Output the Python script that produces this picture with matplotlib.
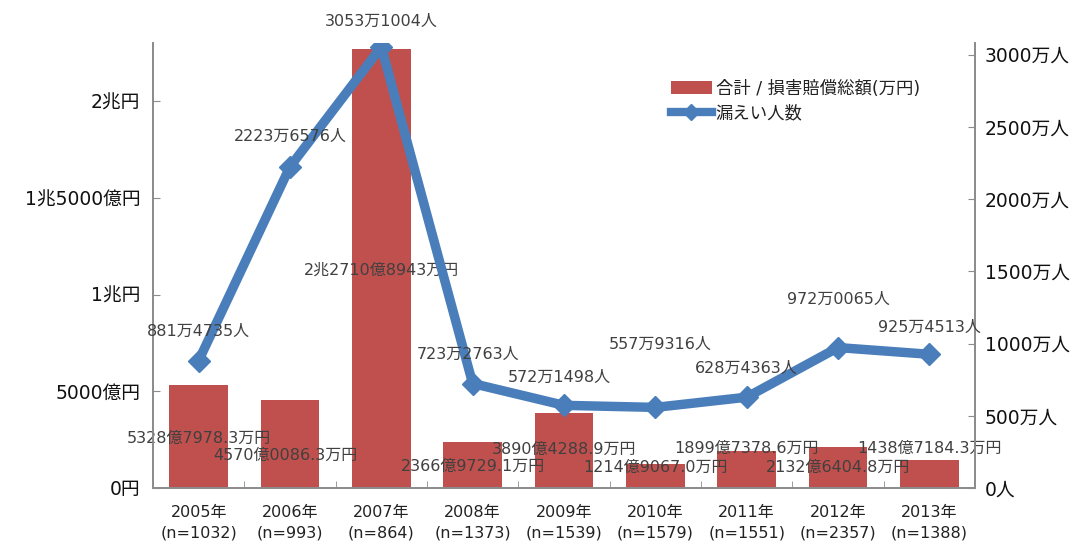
import matplotlib
matplotlib.use("Agg")
import matplotlib.pyplot as plt
from matplotlib.lines import Line2D
from matplotlib.patches import Patch
from matplotlib.transforms import blended_transform_factory

FONT = ['DejaVu Sans', 'Noto Sans CJK JP']
plt.rcParams['font.family'] = FONT

# Data
years = ["2005年", "2006年", "2007年", "2008年", "2009年", "2010年", "2011年", "2012年", "2013年"]
sample_n = [1032, 993, 864, 1373, 1539, 1579, 1551, 2357, 1388]
damages_man_yen = [53287978.3, 45700086.3, 227108943.0, 23669729.1, 38904288.9,
                   12149067.0, 18997378.6, 21326404.8, 14387184.3]
damage_labels = ["5328億7978.3万円", "4570億0086.3万円", "2兆2710億8943万円", "2366億9729.1万円",
                 "3890億4288.9万円", "1214億9067.0万円", "1899億7378.6万円", "2132億6404.8万円",
                 "1438億7184.3万円"]
leaked_people = [8814735, 22236576, 30531004, 7232763, 5721498, 5579316, 6284363, 9720065, 9254513]
people_labels = ["881万4735人", "2223万6576人", "3053万1004人", "723万2763人", "572万1498人",
                 "557万9316人", "628万4363人", "972万0065人", "925万4513人"]
left_ticks = [0, 5e7, 1e8, 1.5e8, 2e8]
left_tick_labels = ["0円", "5000億円", "1兆円", "1兆5000億円", "2兆円"]
right_ticks = [0, 500, 1000, 1500, 2000, 2500, 3000]
right_tick_labels = ["0人", "500万人", "1000万人", "1500万人", "2000万人", "2500万人", "3000万人"]

# Label placement (pixel offsets / figure rows)
people_offsets = [(0, 29), (0, 30), (0, 26), (-5, 29), (-5, 28), (5, 63), (0, 29), (0, 48), (0, 27)]
damage_label_x_shift = [0, -0.05, 0, 0, 0, 0, 0, 0, 0]
damage_label_y = [438, 455, 270, 466, 449, 467, 448, 467, 448]

BAR_COLOR = "#C0504D"
LINE_COLOR = "#4A7EBB"
SPINE_COLOR = "#8C8C8C"
LABEL_COLOR = "#404040"

W, H = 1081, 549
fig = plt.figure(figsize=(W / 100, H / 100), dpi=100)
ax = fig.add_axes([153 / W, (H - 488) / H, (975 - 153) / W, (488 - 43) / H])
ax2 = ax.twinx()

x = list(range(len(years)))
ax.bar(x, damages_man_yen, width=0.64, color=BAR_COLOR, zorder=2)
ax.set_xlim(-0.5, len(years) - 0.5)
ax.set_ylim(0, 2.3e8)
ax2.set_ylim(0, 3080)

people_man = [p / 1e4 for p in leaked_people]
ax2.plot(x, people_man, color=LINE_COLOR, lw=6.8, marker="D", ms=11,
         markerfacecolor=LINE_COLOR, markeredgecolor=LINE_COLOR, zorder=3,
         solid_joinstyle="miter")

# Axes styling
for a in (ax, ax2):
    a.spines["top"].set_visible(False)
    for s in ("left", "right", "bottom"):
        a.spines[s].set_color(SPINE_COLOR)
        a.spines[s].set_linewidth(1.3)
ax.set_yticks(left_ticks)
ax.set_yticklabels(left_tick_labels, fontsize=13.5, color="#111111")
ax2.set_yticks(right_ticks)
ax2.set_yticklabels(right_tick_labels, fontsize=13.5, color="#111111")
ax.tick_params(axis="y", direction="in", length=5, color=SPINE_COLOR, pad=9)
ax2.tick_params(axis="y", direction="in", length=5, color=SPINE_COLOR, pad=7)

ax.set_xticks(x)
ax.set_xticklabels([f"{y}\n(n={n})" for y, n in zip(years, sample_n)], fontsize=11.5,
                   color="#222222", linespacing=1.45)
ax.tick_params(axis="x", length=0, pad=12)
ax.set_xticks([i + 0.5 for i in x[:-1]], minor=True)
ax.tick_params(axis="x", which="minor", direction="in", length=5, color=SPINE_COLOR)

# Data labels
for i, (v, lab) in enumerate(zip(people_man, people_labels)):
    ax2.annotate(lab, (i, v), xytext=people_offsets[i], textcoords="offset pixels",
                 ha="center", va="center", fontsize=11.5, color=LABEL_COLOR, zorder=5)
row_tf = blended_transform_factory(ax.transData, fig.transFigure)
for i, lab in enumerate(damage_labels):
    ax.text(i + damage_label_x_shift[i], (H - damage_label_y[i]) / H, lab, transform=row_tf,
            ha="center", va="center", fontsize=11.5, color=LABEL_COLOR, zorder=5)

# Legend
handles = [Patch(facecolor=BAR_COLOR, edgecolor="none"),
           Line2D([0], [0], color=LINE_COLOR, lw=6, marker="D", ms=8)]
ax2.legend(handles, ["合計 / 損害賠償総額(万円)", "漏えい人数"], loc="upper left",
           bbox_to_anchor=(655 / W, (H - 64) / H), bbox_transform=fig.transFigure,
           frameon=False, prop={'size': 12.5, 'family': FONT}, handlelength=2.4,
           labelspacing=0.4, handletextpad=0.2, labelcolor="#222222")

fig.savefig("out.png", dpi=100, facecolor="white")
